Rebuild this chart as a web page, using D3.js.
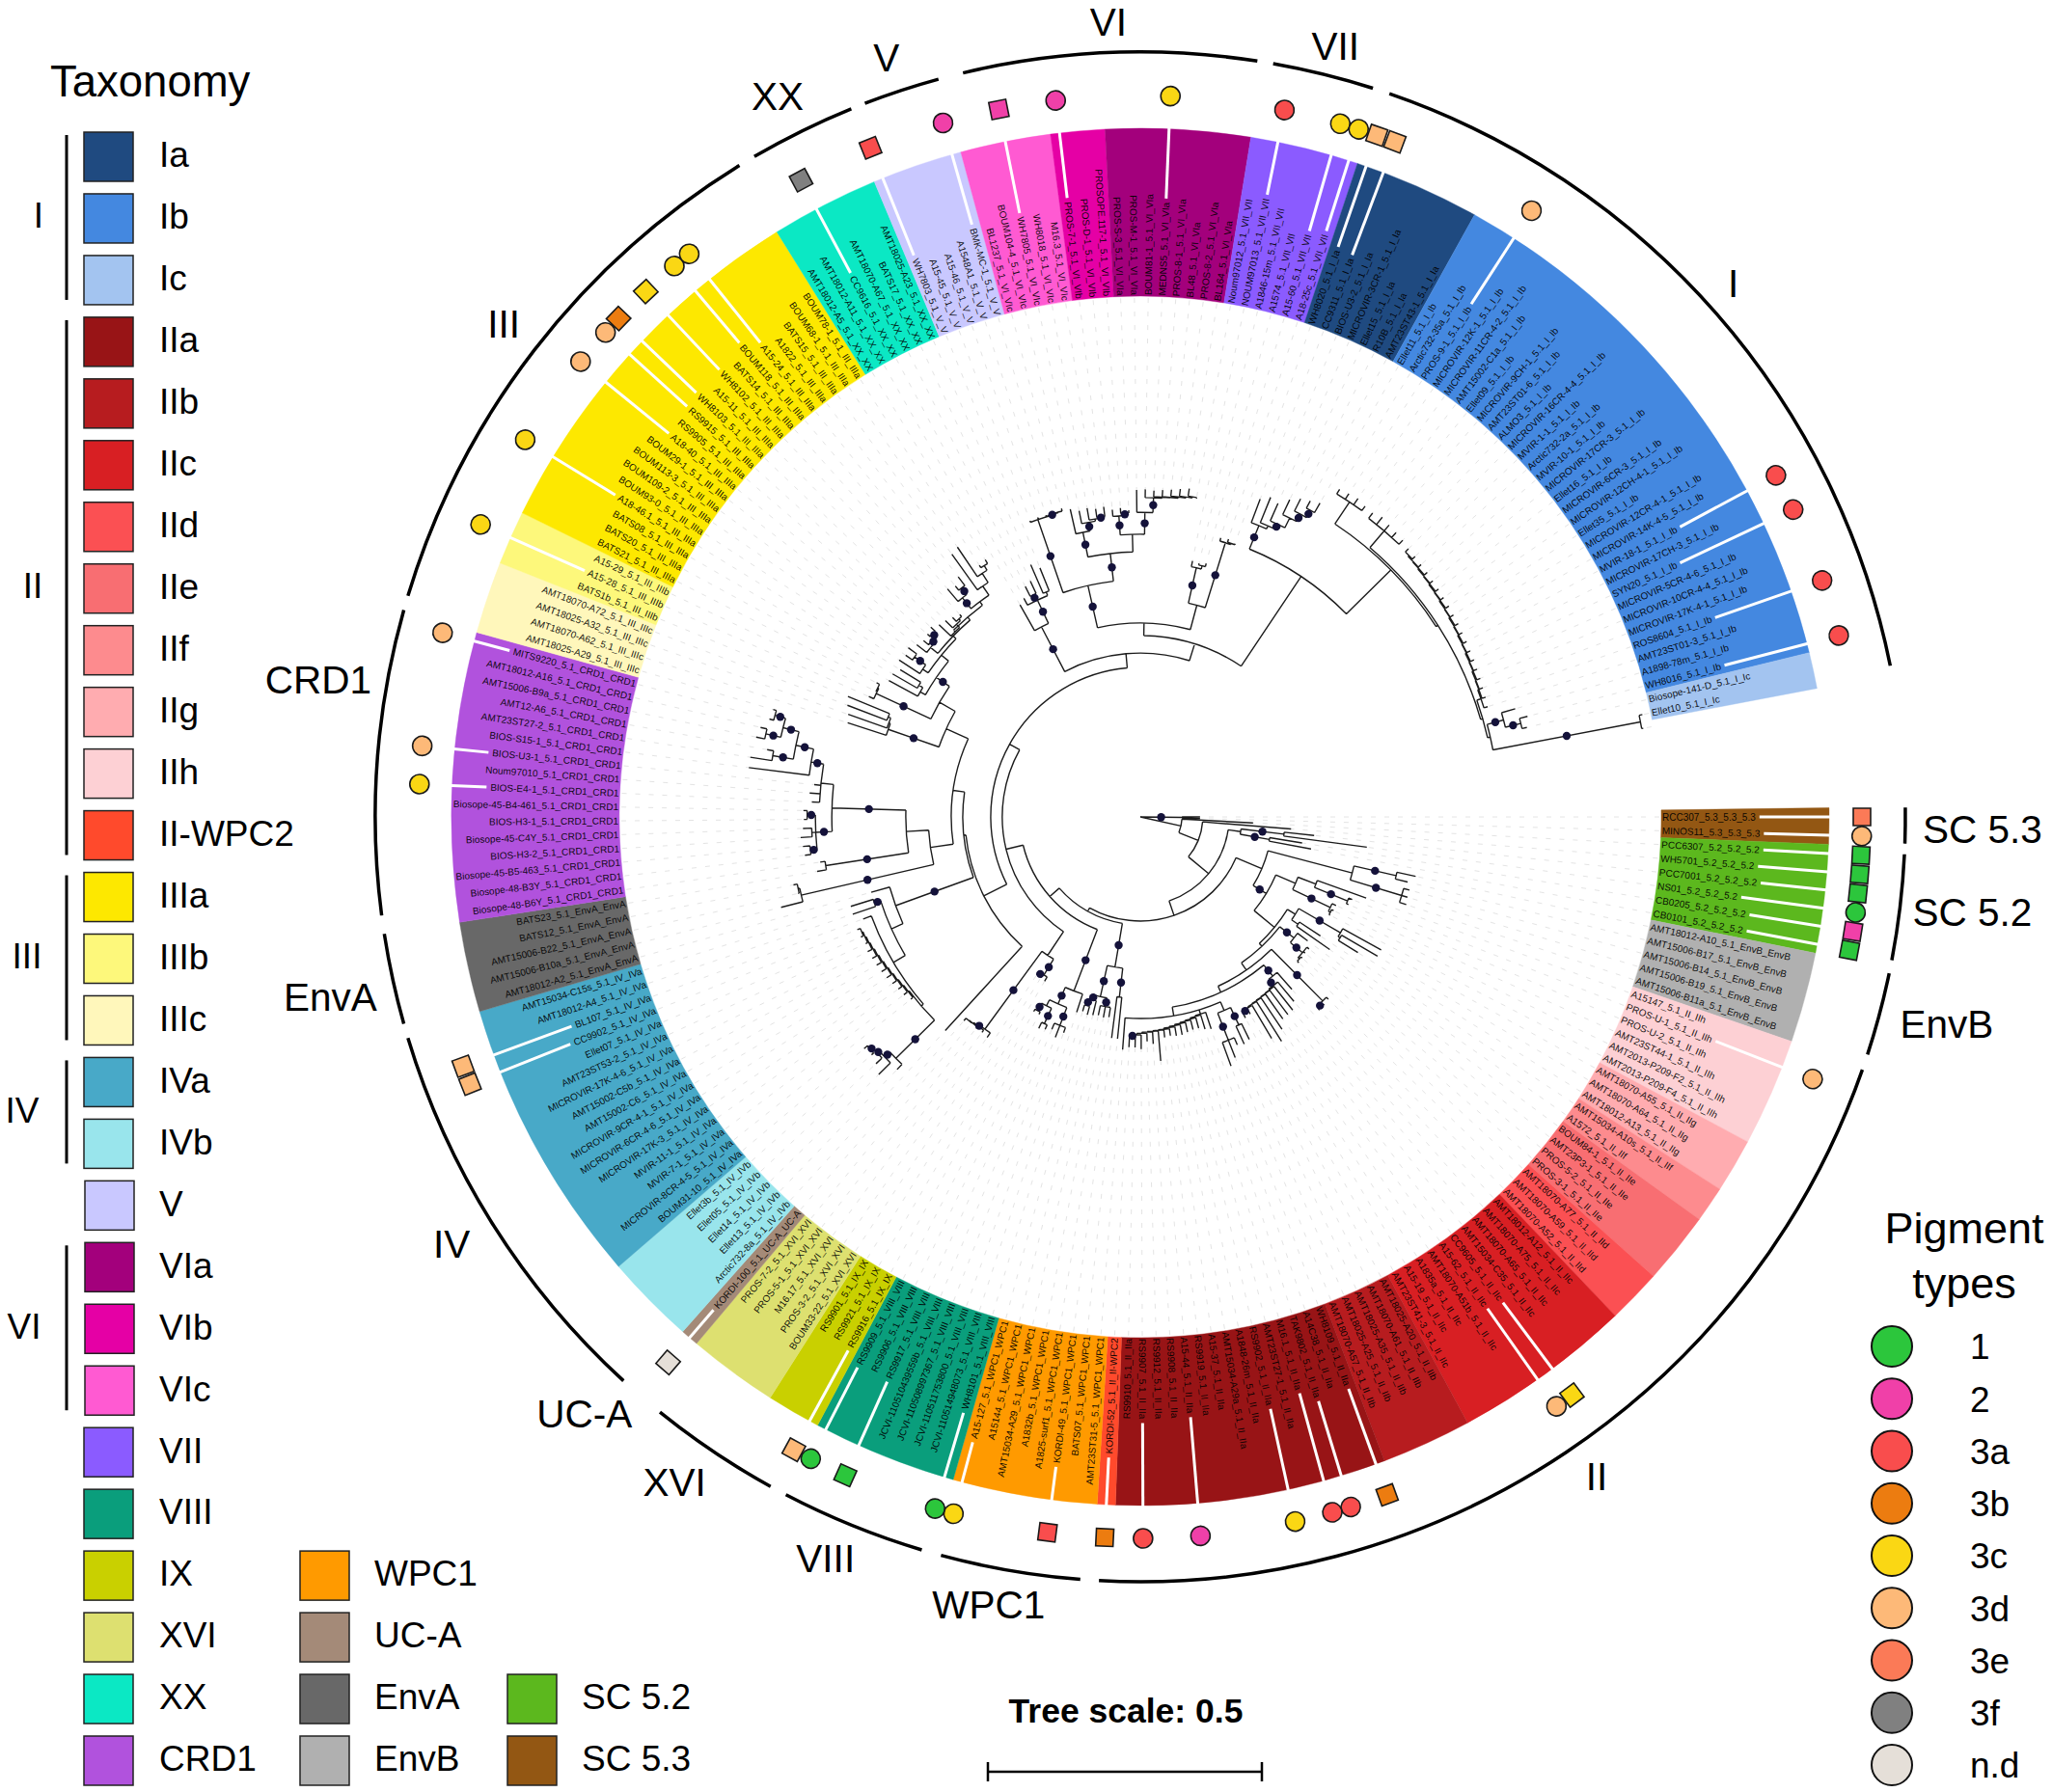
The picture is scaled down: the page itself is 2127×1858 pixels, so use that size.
<!DOCTYPE html>
<html lang="en">
<head>
    <meta charset="UTF-8">
    <title>Synechococcus tree</title>
    <script src="https://d3js.org/d3.v7.min.js"></script>
    <style>
        body { margin: 0; background: #fff; }
        svg { display: block; font-family: "Liberation Sans", Arial, sans-serif; }
    </style>
</head>
<body>
    <svg id="chart" width="2127" height="1858" viewBox="0 0 2127 1858"></svg>
    <script>
        // clades, clockwise from the gap at 3 o'clock
        const cladeIds = ['5.3', '5.2', 'EnvB', 'IIh', 'IIg', 'IIf', 'IIe', 'IId', 'IIc', 'IIb', 'IIa', 'II-WPC2', 'WPC1', 'VIII', 'IX', 'XVI', 'UC-A', 'IVb', 'IVa', 'EnvA', 'CRD1', 'IIIc', 'IIIb', 'IIIa', 'XX', 'V', 'VIc', 'VIb', 'VIa', 'VII', 'Ia', 'Ib', 'Ic'];
        const cladeColors = ['#935713', '#5cb81e', '#b0b0b0', '#fdd0d4', '#ffacb0', '#fd8b8e', '#f86e72', '#fb5053', '#d81f23', '#b71c1f', '#981416', '#ff4a2c', '#ff9a00', '#0a9e7c', '#c9d000', '#dde070', '#a48a78', '#99e5ec', '#48a9c8', '#686868', '#b152dd', '#fff7bb', '#fdf87b', '#fde800', '#0be8c4', '#c9c8ff', '#ff5ad2', '#e500a5', '#a3007c', '#8b5bff', '#1f4a80', '#4488e0', '#a3c4f0'];
        const cladeSuffix = ['5.3_5.3_5.3', '5.2_5.2_5.2', '5.1_EnvB_EnvB', '5.1_II_IIh', '5.1_II_IIg', '5.1_II_IIf', '5.1_II_IIe', '5.1_II_IId', '5.1_II_IIc', '5.1_II_IIb', '5.1_II_IIa', '5.1_II_II-WPC2', '5.1_WPC1_WPC1', '5.1_VIII_VIII', '5.1_IX_IX', '5.1_XVI_XVI', '5.1_UC-A_UC-A', '5.1_IV_IVb', '5.1_IV_IVa', '5.1_EnvA_EnvA', '5.1_CRD1_CRD1', '5.1_III_IIIc', '5.1_III_IIIb', '5.1_III_IIIa', '5.1_XX_XX', '5.1_V_V', '5.1_VI_VIc', '5.1_VI_VIb', '5.1_VI_VIa', '5.1_VII_VII', '5.1_I_Ia', '5.1_I_Ib', '5.1_I_Ic'];

        const strains = [
            ['RCC307', 'MINOS11'],
            ['PCC6307', 'WH5701', 'PCC7001', 'NS01', 'CB0205', 'CB0101'],
            ['AMT18012-A10', 'AMT15006-B17', 'AMT15006-B14', 'AMT15006-B19', 'AMT15006-B11a'],
            ['A15147', 'PROS-U-1', 'PROS-U-2', 'AMT23ST44-1', 'AMT2013-P209-F2', 'AMT2013-P209-F4'],
            ['AMT18070-A55', 'AMT18070-A64', 'AMT18012-A13'],
            ['AMT15034-A10s', 'A1572'],
            ['BOUM84-1', 'AMT23P3-1', 'PROS-5-2', 'PROS-3-1'],
            ['AMT18070-A77', 'AMT18070-A59', 'AMT18070-A52'],
            ['AMT18012-A12', 'AMT18070-A75', 'AMT18070-A65', 'AMT15034-C35', 'CC9605', 'A15-62', 'AMT18070-A51b', 'A1835a', 'A15-19', 'AMT23ST41-3'],
            ['AMT18025-A20', 'AMT18070-A61', 'AMT18025-A35', 'AMT18025-A25', 'AMT18070-A57'],
            ['WH8109', 'A14C38', 'TAK9802', 'M16.1', 'AMT23ST27-1', 'RS9902', 'A1848-26m', 'AMT15034-A29a', 'A15-37', 'RS9919', 'A15-44', 'RS9908', 'RS9912', 'RS9907', 'RS9910'],
            ['KORDI-52'],
            ['AMT23ST31-5', 'BATS07', 'KORDI-49', 'A1825-surf1', 'A1832b', 'AMT15034-A29', 'A15144', 'A15-127'],
            ['WH8101', 'JCVI-110514948073', 'JCVI-110511753800', 'JCVI-110508997367', 'JCVI-110510439559b', 'RS9917', 'RS9906', 'RS9909'],
            ['RS9916', 'RS9921', 'RS9901'],
            ['BOUM33-22', 'PROS-3-2', 'M16.17', 'PROS-5-1', 'PROS-7-2'],
            ['KORDI-100'],
            ['Arctic732-8a', 'Ellet13', 'Ellet14', 'Ellet05', 'Ellet3b'],
            ['BOUM31-10', 'MICROVIR-8CR-4-5', 'MVIR-7-1', 'MVIR-11-1', 'MICROVIR-17K-3', 'MICROVIR-6CR-4-6', 'MICROVIR-9CR-4-1', 'AMT15002-C6', 'AMT15002-C5b', 'MICROVIR-17K-4-6', 'AMT23ST53-2', 'Ellet07', 'CC9902', 'BL107', 'AMT18012-A4', 'AMT15034-C15s'],
            ['AMT18012-A2', 'AMT15006-B10a', 'AMT15006-B22', 'BATS12', 'BATS23'],
            ['Biosope-48-B6Y', 'Biosope-48-B3Y', 'Biosope-45-B5-463', 'BIOS-H3-2', 'Biosope-45-C4Y', 'BIOS-H3-1', 'Biosope-45-B4-461', 'BIOS-E4-1', 'Noum97010', 'BIOS-U3-1', 'BIOS-S15-1', 'AMT23ST27-2', 'AMT12-A6', 'AMT15006-B9a', 'AMT18012-A16', 'MITS9220'],
            ['AMT18025-A29', 'AMT18070-A62', 'AMT18025-A32', 'AMT18070-A72'],
            ['BATS1b', 'A15-28', 'A15-29'],
            ['BATS21', 'BATS20', 'BATS08', 'A18-46.1', 'BOUM93-0', 'BOUM109-2', 'BOUM113-3', 'BOUM29-1', 'A18-40', 'RS9905', 'RS9915', 'WH8103', 'A15-11', 'WH8102', 'BATS14', 'BOUM118', 'A15-24', 'A1822', 'BATS15', 'BOUM68-1', 'BOUM78-1'],
            ['AMT18012-A5', 'AMT18012-A11', 'CC9616', 'AMT18070-A67', 'BATS17', 'AMT18025-A23'],
            ['WH7803', 'A15-45', 'A15-46', 'A1548A1', 'BMK-MC-1'],
            ['BL1237', 'BOUM104-4', 'WH7805', 'WH8018', 'M16.3'],
            ['PROS-7-1', 'PROS-D-1', 'PROSOPE.117-1'],
            ['PROS-S-3', 'PROS-M-1', 'BOUM81-1', 'MEDNS5', 'PROS-8-1', 'BL48', 'PROS-8-2', 'BL164'],
            ['Noum97012', 'NOUM97013', 'A1846-15m', 'A1574', 'A15-60', 'A18-25c'],
            ['WH8020', 'CC9311', 'BIOS-U3-2', 'MICROVIR-3CR-1', 'Ellet15', 'R10B', 'AMT23ST43-1'],
            ['Ellet11', 'Arctic732-35a', 'PROS-9-1', 'MICROVIR-12K-1', 'MICROVIR-11CR-4-2', 'AMT15002-C1a', 'Ellet09', 'MICROVIR-9CH-1', 'AMT23ST01-6', 'ALMO3', 'MICROVIR-16CR-4-4', 'MVIR-1-1', 'Arctic732-2a', 'MVIR-10-1', 'MICROVIR-17CR-3', 'Ellet16', 'MICROVIR-6CR-3', 'MICROVIR-12CH-4-1', 'Ellet35', 'MICROVIR-12CR-4-1', 'MICROVIR-14K-4-5', 'MVIR-18-1', 'MICROVIR-17CH-3', 'SYN20', 'MICROVIR-5CR-4-6', 'MICROVIR-10CR-4-4', 'MICROVIR-17K-4-1', 'ROS8604', 'AMT23ST01-3', 'A1898-78m', 'WH8016'],
            ['Biosope-141-D', 'Ellet10']
        ];

        // pigment types
        const pigmentNames = ['1', '2', '3a', '3b', '3c', '3d', '3e', '3f', 'n.d'];
        const pigmentColors = ['#2cc63c', '#f040a8', '#f94d4d', '#ec7c10', '#fad714', '#fdb978', '#fb7a57', '#808080', '#e5dfd8'];

        // strains with a pigment marker: leaf number and pigment type; squares listed apart, the rest are circles
        const markerLeaf = [0, 1, 2, 3, 4, 5, 6, 7, 14, 35, 36, 46, 48, 49, 51, 56, 59, 61, 64, 69, 70, 75, 77, 78, 86, 104, 105, 120, 122, 128, 134, 139, 144, 146, 147, 149, 151, 152, 159, 163, 167, 170, 173, 179, 185, 188, 189, 190, 191, 199, 218, 220, 224, 227];
        const markerPigment = ['3e', '3d', '1', '1', '1', '1', '2', '1', '3d', '3c', '3d', '3b', '3a', '3a', '3c', '2', '3a', '3b', '3a', '3c', '1', '1', '1', '3d', 'n.d', '3d', '3d', '3c', '3d', '3d', '3c', '3c', '3d', '3d', '3b', '3c', '3c', '3c', '3f', '3a', '2', '2', '2', '3c', '3a', '3c', '3c', '3d', '3d', '3d', '3a', '3a', '3a', '3a'];
        const squareLeaves = [0, 2, 3, 4, 6, 7, 35, 46, 61, 64, 75, 78, 86, 104, 105, 147, 149, 159, 163, 170, 190, 191];

        // outer arcs (degrees clockwise from 3 o'clock), label angle and radius
        const sectionNames = ['SC 5.3', 'SC 5.2', 'EnvB', 'II', 'WPC1', 'VIII', 'XVI', 'UC-A', 'IV', 'EnvA', 'CRD1', 'III', 'XX', 'V', 'VI', 'VII', 'I'];
        const sectionStart = [-0.7, 2.8, 11.8, 19.3, 94.5, 106.6, 118.9, null, 132.5, 164.3, 172.6, 196.8, 239.7, 248.9, 256.6, 280, 289];
        const sectionEnd = [2.0, 10.8, 18.1, 93.1, 105.1, 117.6, 128.9, null, 163.2, 171.2, 195.7, 238.4, 247.8, 254.7, 278.8, 287.7, 348.6];
        const sectionLabelAngle = [0.8, 6.5, 14.4, 55.3, 100.9, 113, 125, 133, 148.2, 167.5, 189.5, 217.8, 243.3, 251.5, 267.7, 284.2, 318];
        const sectionLabelRadius = [873, 868, 863, 831, 831, 835, 842, 845, 840, 860, 864, 835, 837, 830, 825, 825, 827];

        // taxonomy legend
        const legendCol1 = ['Ia', 'Ib', 'Ic', 'IIa', 'IIb', 'IIc', 'IId', 'IIe', 'IIf', 'IIg', 'IIh', 'II-WPC2', 'IIIa', 'IIIb', 'IIIc', 'IVa', 'IVb', 'V', 'VIa', 'VIb', 'VIc', 'VII', 'VIII', 'IX', 'XVI', 'XX', 'CRD1'];
        const legendCol2 = ['WPC1', 'UC-A', 'EnvA', 'EnvB'];
        const legendCol3 = ['SC 5.2', 'SC 5.3'];
        const legendGroups = ['I', 'II', 'III', 'IV', 'VI'];
        const legendGroupRows = [[0, 2], [3, 11], [12, 14], [15, 16], [18, 20]];
        const legendGroupX = [40, 34, 28, 23, 25];

        // tree. "(children)depth", tips are plain depths,
        // # = supported node. Depth = distance from root in 1/1000 of a tree-scale unit.
        const cladeSC53 = '(109,109)76#';
        const cladeSC52a = '((319,417)264#,(299,317)239#)185';
        const cladeEnvB = '((514,502)479#,(509,509,511)498#)400';
        const cladeIIh = '((438,(415,412)408#)343,(392,(392,390)388)384#)308';
        const cladeIIg = '(502,(502,468)426)422#';
        const cladeIIf = '(394,422)348';
        const cladeIIe = '(380,(391,390,(392,393)389)386#)357#';
        const cladeIId = '(478,(480,481)478#)473#';
        const cladeIIc = '(419,(438,(449,(450,(451,(466,(484,(470,(412,414)405#)400)398)397)396)395)394)392#)378#';
        const cladeIIb = '((452,456)420#,(452,472,484)438#)385';
        const cladeIIa = '(408,(405,(400,(400,(402,(405,(405,(403,(405,(447,(415,(410,(424,(421,421)402#)398)395)393)392)391)390)388)386)384)382)380)378)376';
        const cladeWPC1 = '((407,407)331#,((370,372,370)352#,(372,(374,370)358#)345#)336#)278#';
        const cladeVIII = '(375,((418,431,420)408#,((425,428)416#,(405,405)400#)385)373#)340#';
        const cladeIX = '(347,(345,345)342#)338#';
        const cladeXVI = '(490,(488,(489,(487,492)486)485)483#)480#';
        const cladeIVb = '(640,(670,(660,(655,658)650#)645#)640#)627#';
        const cladeIVa = '(535,(540,(542,(545,(548,(550,(552,(553,(555,(552,(555,556)550)548)546)544)542)540)538)536)534)532)530';
        const cladeEnvAa = '(676,(640,645)638)635#';
        const cladeEnvAb = '(598,590)581#';
        const cladeCRD1a = '((616,618)605#,(621,616)600,(614,615)608#)593#';
        const cladeCRD1b = '(600,605,598,(720,((720,692)680#,((716,712)700#,(700,698)692#)672#)642#)609#)586';
        const cladeIIIc = '(561,(565,(572,577)495)490)487#';
        const cladeIIIb = '(542,(535,540)534)532#';
        const cladeIIIa = '((522,(522,514)470)462,((525,(520,524)505#)480,((515,(510,(512,516)505#)498#)492,((508,(505,(500,495)490)486)478,((545,(540,550)530#)515#,(590,(595,(545,548)540)530)510)490)482)475)468)451#';
        const cladeXX = '(445,(452,(470,475)450#,(502,490)445)438#)391#';
        const cladeV = '(577,(578,(577,(579,581)576)575#)574)574#';
        const cladeVIc = '(576,(570,(572,(568,570)552#)550)546#)530#';
        const cladeVIb = '(563,(565,560)555#)551#';
        const cladeVIa = '(597,(598,(596,(598,(600,(603,(606,590)592)590)588)586)585)583#)556#';
        const cladeVII = '((477,(475,478)472)466#,(530,(532,528)526)524#)400';
        const cladeIa = '(620,(630,(625,(640,(650,(655,660)640#)625#)610)590#)580)574#';
        const cladeIbTop1 = '(700,702,704,700)690';
        const cladeIbTop2 = '(698,703,700,698,696)686';
        const cladeIbEnd = '(712,(730,724)715#)686#';
        const cladeIc = '(935,932)929#';
        // long staircase of Ib, deepest node first
        const ibCombTips = [692, 691, 689, 688, 686, 685, 683, 682, 680, 679, 677, 676, 674, 673, 671, 670, 668, 667, 665];
        const ibCombNodes = [684, 682, 681, 679, 678, 676, 675, 673, 672, 670, 669, 667, 666, 664, 663, 661, 660, 658];
        const cladeIbComb = ibCombNodes.reduce((acc, d, i) => `(${acc},${ibCombTips[i + 1]})${d}`, String(ibCombTips[0]));

        const treeI = `(${cladeIa},(${cladeIbTop1},(${cladeIbTop2},(${cladeIbComb},(${cladeIbEnd},${cladeIc})655)650)646)642)528`;
        const treeVI = `(${cladeV},(${cladeVIc},(${cladeVIb},${cladeVIa})516)484#)433#`;
        const treeUpper = `((${treeVI},${cladeVII})354,${treeI})331`;
        const treeIV = `(((${cladeIVb},${cladeIVa})528,539)523,(554,553)510#)498`;
        const treeCRD = `(${cladeEnvAa},(${cladeEnvAb},(${cladeCRD1a},${cladeCRD1b})563#)428)387`;
        const treeIII = `(${cladeIIIc},(${cladeIIIb},${cladeIIIa})422)389`;
        const treeQ = `(${treeCRD},${treeIII})345`;
        const treeP = `(528,((${treeIV},510)475#,${treeQ})324)320`;
        const treeD = `(${treeP},(${cladeXX},${treeUpper})299)273`;
        const treeC = `((${cladeIX},${cladeXVI})304,${treeD})252`;
        const treeHH = `(${cladeWPC1},(${cladeVIII},${treeC})220)197`;
        const treeII = `((${cladeIIg},${cladeIIf})334,(${cladeIIe},(${cladeIId},(${cladeIIc},(${cladeIIb},${cladeIIa},426)368)352)340)324)317`;
        const tree5 = `(${cladeEnvB},(${cladeIIh},${treeII})269#)241`;
        const treeRoot = `(${cladeSC53},(206,(276,(${cladeSC52a},(${tree5},${treeHH})190)162)114)76)0`;

        const treeScale = 0.5;
        const center = [1182, 847];
        const innerR = 540, outerR = 714, markerR = 748, sectionR = 793;

        const svg = d3.select('#chart');
        const rad = d => d * Math.PI / 180;

        const leafAngle = d3.scaleLinear().domain([0, 230]).range([-0.76, 349.24]);
        const thetaOf = i => leafAngle(i + 0.5);
        const r = d3.scaleLinear().domain([0, treeScale]).range([0, 284]);

        const colorOf = d3.scaleOrdinal(cladeIds, cladeColors);
        const pigmentOf = d3.scaleOrdinal(pigmentNames, pigmentColors);

        function parseTree(s) {
            let pos = 0;
            let leafCount = 0;
            function num() {
                const st = pos;
                while (/[0-9.]/.test(s[pos])) pos++;
                return +s.slice(st, pos) / 1000;
            }
            function node() {
                if (s[pos] === '(') {
                    pos++;
                    const children = [node()];
                    while (s[pos] === ',') { pos++; children.push(node()); }
                    pos++; // )
                    const depth = num();
                    const dot = s[pos] === '#';
                    if (dot) pos++;
                    return { children, depth, dot };
                }
                return { depth: num(), leaf: leafCount++ };
            }
            return node();
        }

        const root = d3.hierarchy(parseTree(treeRoot));
        root.eachAfter(d => {
            if (d.children) {
                d.theta = (d.children[0].theta + d.children[d.children.length - 1].theta) / 2;
            } else {
                d.theta = thetaOf(d.data.leaf);
            }
        });
        console.log('tree leaves:', root.leaves().length);

        const g = svg.append('g').attr('transform', `translate(${center})`);
        const polar = (t, rr) => [rr * Math.cos(rad(t)), rr * Math.sin(rad(t))];
        const ringArc = d3.arc();
        const toArc = t => rad(t + 90);

        // faint alignment dashes from each tip to the label
        g.append('g').selectAll('line')
            .data(root.leaves())
            .join('line')
            .attr('x1', d => polar(d.theta, innerR - 2)[0])
            .attr('y1', d => polar(d.theta, innerR - 2)[1])
            .attr('x2', d => polar(d.theta, r(d.data.depth))[0])
            .attr('y2', d => polar(d.theta, r(d.data.depth))[1])
            .attr('stroke', '#e4e4e4')
            .attr('stroke-width', 1)
            .attr('stroke-dasharray', '5 9');

        // coloured strip, one block per clade
        let cursor = 0;
        const blocks = strains.map((names, i) => {
            const b = { id: cladeIds[i], start: cursor, end: cursor + names.length };
            cursor += names.length;
            return b;
        });
        g.append('g').selectAll('path')
            .data(blocks)
            .join('path')
            .attr('d', d => ringArc({
                innerRadius: innerR,
                outerRadius: outerR,
                startAngle: toArc(leafAngle(d.start)),
                endAngle: toArc(leafAngle(d.end))
            }))
            .attr('fill', d => colorOf(d.id))
            .attr('stroke', d => colorOf(d.id))
            .attr('stroke-width', 0.4);

        // leaf labels
        const leaves = [];
        strains.forEach((names, c) => names.forEach(n => {
            leaves.push({ label: `${n}_${cladeSuffix[c]}`, i: leaves.length });
        }));
        const labels = g.append('g').selectAll('text')
            .data(leaves)
            .join('text')
            .attr('transform', d => {
                const t = thetaOf(d.i);
                const flip = t > 90 && t < 270;
                return `rotate(${t}) translate(${innerR + 1},0)` + (flip ? ' rotate(180)' : '');
            })
            .attr('text-anchor', d => (thetaOf(d.i) > 90 && thetaOf(d.i) < 270) ? 'end' : 'start')
            .attr('dy', '0.35em')
            .attr('font-size', 10)
            .attr('fill', '#000')
            .attr('fill-opacity', 0.92)
            .text(d => d.label);
        labels.each(function (d) { d.len = this.getComputedTextLength(); });

        // white rays from the label of each pigmented strain to the strip edge
        const markers = markerLeaf.map((leaf, i) => ({ leaf, pigment: markerPigment[i], square: squareLeaves.includes(leaf) }));
        g.append('g').selectAll('line')
            .data(markers)
            .join('line')
            .attr('x1', d => polar(thetaOf(d.leaf), innerR + 1 + leaves[d.leaf].len + 4)[0])
            .attr('y1', d => polar(thetaOf(d.leaf), innerR + 1 + leaves[d.leaf].len + 4)[1])
            .attr('x2', d => polar(thetaOf(d.leaf), outerR + 1)[0])
            .attr('y2', d => polar(thetaOf(d.leaf), outerR + 1)[1])
            .attr('stroke', '#fff')
            .attr('stroke-width', 3);

        // tree branches
        const treePath = d3.path();
        root.descendants().forEach(d => {
            if (d.parent) {
                const a = polar(d.theta, r(d.parent.data.depth));
                const b = polar(d.theta, r(d.data.depth));
                treePath.moveTo(a[0], a[1]);
                treePath.lineTo(b[0], b[1]);
            }
            if (d.children && d.data.depth > 0) {
                const t0 = d.children[0].theta, t1 = d.children[d.children.length - 1].theta;
                const a = polar(t0, r(d.data.depth));
                treePath.moveTo(a[0], a[1]);
                treePath.arc(0, 0, r(d.data.depth), rad(t0), rad(t1));
            }
        });
        g.append('path')
            .attr('d', treePath.toString())
            .attr('fill', 'none')
            .attr('stroke', '#1c1c1c')
            .attr('stroke-width', 1.4);

        // support dots, half way along the branch
        g.append('g').selectAll('circle')
            .data(root.descendants().filter(d => d.data.dot))
            .join('circle')
            .attr('cx', d => polar(d.theta, (r(d.parent.data.depth) + r(d.data.depth)) / 2)[0])
            .attr('cy', d => polar(d.theta, (r(d.parent.data.depth) + r(d.data.depth)) / 2)[1])
            .attr('r', 4.2)
            .attr('fill', '#14123a');

        // pigment markers
        const markerG = g.append('g').selectAll('g')
            .data(markers)
            .join('g')
            .attr('transform', d => `rotate(${thetaOf(d.leaf)}) translate(${markerR},0)`);
        markerG.filter(d => !d.square).append('circle')
            .attr('r', 10)
            .attr('fill', d => pigmentOf(d.pigment))
            .attr('stroke', '#1a1a1a')
            .attr('stroke-width', 1.6);
        markerG.filter(d => d.square).append('rect')
            .attr('x', -9).attr('y', -9).attr('width', 18).attr('height', 18)
            .attr('fill', d => pigmentOf(d.pigment))
            .attr('stroke', '#1a1a1a')
            .attr('stroke-width', 1.6);

        // outer section arcs and names
        const sections = sectionNames.map((name, i) => ({
            name, start: sectionStart[i], end: sectionEnd[i],
            la: sectionLabelAngle[i], lr: sectionLabelRadius[i]
        }));
        g.append('g').selectAll('path')
            .data(sections.filter(d => d.start !== null))
            .join('path')
            .attr('d', d => ringArc({
                innerRadius: sectionR,
                outerRadius: sectionR,
                startAngle: toArc(d.start),
                endAngle: toArc(d.end)
            }))
            .attr('fill', 'none')
            .attr('stroke', '#000')
            .attr('stroke-width', 3.5);
        g.append('g').selectAll('text')
            .data(sections)
            .join('text')
            .attr('x', d => polar(d.la, d.lr)[0])
            .attr('y', d => polar(d.la, d.lr)[1])
            .attr('dy', '0.36em')
            .attr('text-anchor', 'middle')
            .attr('font-size', 40.5)
            .text(d => d.name);

        // taxonomy legend
        svg.append('text').attr('x', 52).attr('y', 100).attr('font-size', 45.5).text('Taxonomy');

        const rowY = d3.scaleLinear().domain([0, 26]).range([137, 1800]);
        const boxSize = [51, 51];
        const legendRows = [
            ...legendCol1.map((name, i) => ({ name, row: i, x: i >= 17 && i < 21 ? 88 : 87, tx: 165 })),
            ...legendCol2.map((name, i) => ({ name, row: 23 + i, x: 311, tx: 388 })),
            ...legendCol3.map((name, i) => ({ name, row: 25 + i, x: 526, tx: 603 }))
        ];
        const cladeKey = name => (name === 'SC 5.2' ? '5.2' : name === 'SC 5.3' ? '5.3' : name);
        svg.append('g').selectAll('rect')
            .data(legendRows)
            .join('rect')
            .attr('x', d => d.x)
            .attr('y', d => rowY(d.row))
            .attr('width', boxSize[0])
            .attr('height', boxSize[1])
            .attr('fill', d => colorOf(cladeKey(d.name)))
            .attr('stroke', '#222')
            .attr('stroke-width', 1.5);
        svg.append('g').selectAll('text')
            .data(legendRows)
            .join('text')
            .attr('x', d => d.tx)
            .attr('y', d => rowY(d.row) + 23)
            .attr('dy', '0.36em')
            .attr('font-size', 37)
            .text(d => d.name);

        const groupData = legendGroups.map((name, i) => ({ name, rows: legendGroupRows[i], x: legendGroupX[i] }));
        svg.append('g').selectAll('line')
            .data(groupData)
            .join('line')
            .attr('x1', 69).attr('x2', 69)
            .attr('y1', d => rowY(d.rows[0]) + 3)
            .attr('y2', d => rowY(d.rows[1]) + 46)
            .attr('stroke', '#000')
            .attr('stroke-width', 3);
        svg.append('g').selectAll('text')
            .data(groupData)
            .join('text')
            .attr('x', d => d.x)
            .attr('y', d => (rowY(d.rows[0]) + rowY(d.rows[1]) + 44) / 2)
            .attr('dy', '0.36em')
            .attr('text-anchor', 'middle')
            .attr('font-size', 37)
            .text(d => d.name);

        // pigment legend
        svg.append('text').attr('x', 2036).attr('y', 1289).attr('text-anchor', 'middle').attr('font-size', 45).text('Pigment');
        svg.append('text').attr('x', 2036).attr('y', 1346).attr('text-anchor', 'middle').attr('font-size', 45).text('types');
        const pigY = d3.scaleLinear().domain([0, 8]).range([1396, 1830]);
        svg.append('g').selectAll('circle')
            .data(pigmentNames)
            .join('circle')
            .attr('cx', 1961)
            .attr('cy', (d, i) => pigY(i))
            .attr('r', 21)
            .attr('fill', d => pigmentOf(d))
            .attr('stroke', '#111')
            .attr('stroke-width', 2);
        svg.append('g').selectAll('text')
            .data(pigmentNames)
            .join('text')
            .attr('x', 2042)
            .attr('y', (d, i) => pigY(i))
            .attr('dy', '0.36em')
            .attr('font-size', 37)
            .text(d => d);

        // tree scale bar
        const barX = 1024, barY = 1837;
        const bar = d3.path();
        bar.moveTo(barX, barY - 10); bar.lineTo(barX, barY + 10);
        bar.moveTo(barX, barY); bar.lineTo(barX + r(treeScale), barY);
        bar.moveTo(barX + r(treeScale), barY - 10); bar.lineTo(barX + r(treeScale), barY + 10);
        svg.append('path').attr('d', bar.toString()).attr('fill', 'none').attr('stroke', '#000').attr('stroke-width', 2.5);
        svg.append('text')
            .attr('x', 1167)
            .attr('y', 1786)
            .attr('text-anchor', 'middle')
            .attr('font-size', 35.5)
            .attr('font-weight', 'bold')
            .text(`Tree scale: ${treeScale}`);
    </script>
</body>
</html>
